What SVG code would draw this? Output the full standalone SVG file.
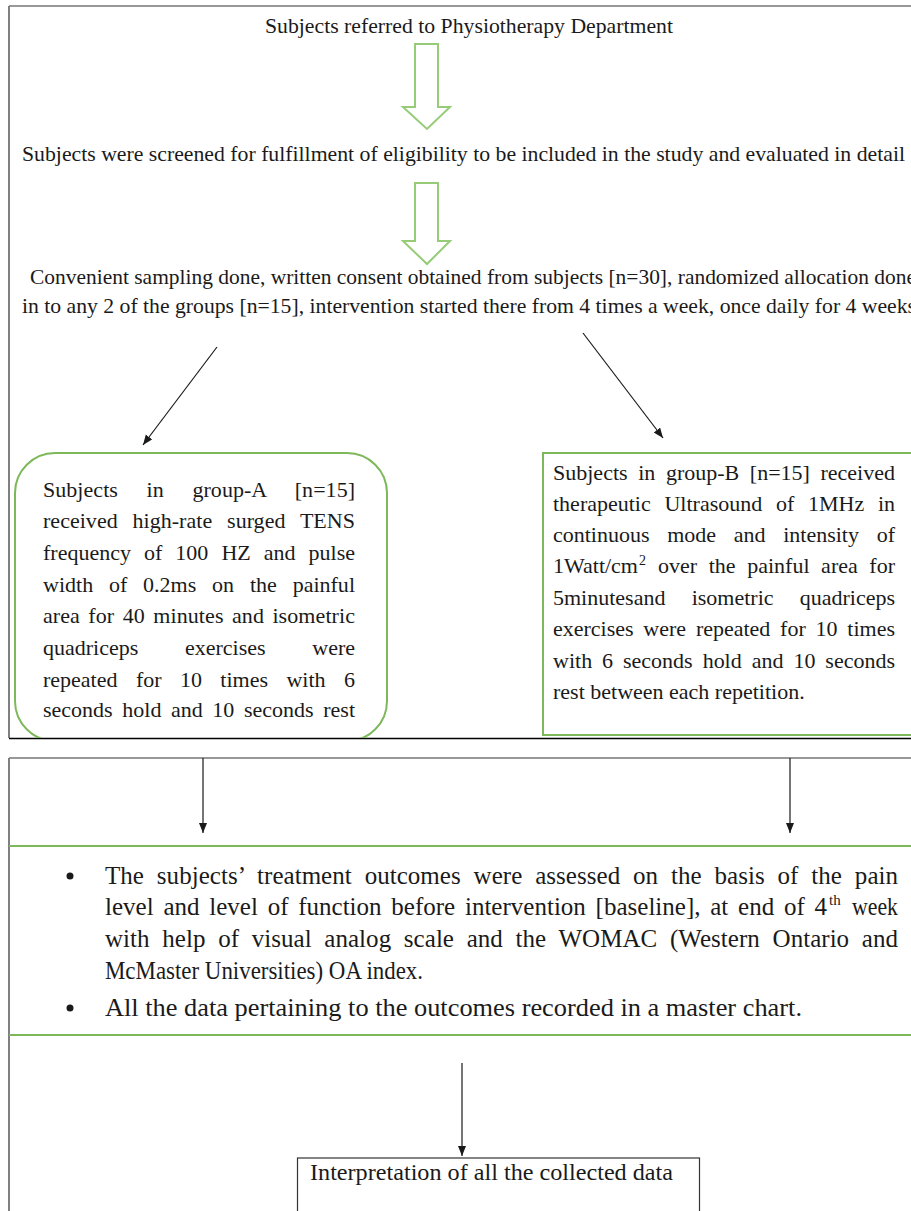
<svg xmlns="http://www.w3.org/2000/svg" width="911" height="1211" viewBox="0 0 911 1211">
<style>
.t{font-family:"Liberation Serif","Times New Roman",serif;fill:#1a1a1a}
.s21{font-size:21px}
.s22{font-size:22px}
.s24{font-size:24px}
.s25{font-size:25px}
.frame{stroke:#333;stroke-width:1.2;fill:none}
.side{stroke:#808080;stroke-width:2;fill:none}
.grn{stroke:#7DB85A;stroke-width:2;fill:none}
.hollow{stroke:#96CC78;stroke-width:2;fill:#fff}
.con{stroke:#1a1a1a;stroke-width:1.2;fill:none}
</style>
<defs>
<marker id="ah" markerUnits="userSpaceOnUse" markerWidth="10" markerHeight="10" refX="10" refY="4" orient="auto">
<path d="M0,0 L10,4 L0,8 z" fill="#1a1a1a"/>
</marker>
<clipPath id="clipTop"><rect x="0" y="0" width="911" height="738"/></clipPath>
</defs>
<rect x="0" y="0" width="911" height="1211" fill="#fff"/>

<g id="frames">
<line class="frame" x1="9" y1="6" x2="911" y2="6"/>
<line class="side" x1="9" y1="6" x2="9" y2="738"/>
<line x1="9" y1="738.5" x2="911" y2="738.5" stroke="#000" stroke-width="1.5"/>
<line class="frame" x1="9" y1="758" x2="911" y2="758" stroke="#444" stroke-width="1.5"/>
<line class="side" x1="9" y1="758" x2="9" y2="1211"/>
</g>

<g id="connectors">
<polygon class="hollow" points="415,44 438,44 438,107 450,107 427,129 403,107 415,107"/>
<polygon class="hollow" points="415,183 438,183 438,241 450,241 427,264 403,241 415,241"/>
<line class="con" x1="217" y1="347" x2="143" y2="445" marker-end="url(#ah)"/>
<line class="con" x1="583" y1="333" x2="663" y2="438" marker-end="url(#ah)"/>
<line class="con" x1="203" y1="758" x2="203" y2="833" marker-end="url(#ah)"/>
<line class="con" x1="790" y1="758" x2="790" y2="833" marker-end="url(#ah)"/>
<line class="con" x1="462" y1="1063" x2="462" y2="1156" marker-end="url(#ah)"/>
</g>

<g id="node-referred">
<text class="t s22" x="265" y="33" textLength="408" lengthAdjust="spacingAndGlyphs">Subjects referred to Physiotherapy Department</text>
</g>

<g id="node-screened">
<text class="t s21" x="22" y="161" textLength="883" lengthAdjust="spacingAndGlyphs">Subjects were screened for fulfillment of eligibility to be included in the study and evaluated in detail</text>
</g>

<g id="node-sampling">
<text class="t s21" x="30" y="284" textLength="886" lengthAdjust="spacingAndGlyphs">Convenient sampling done, written consent obtained from subjects [n=30], randomized allocation done</text>
<text class="t s21" x="22" y="313" textLength="894" lengthAdjust="spacingAndGlyphs">in to any 2 of the groups [n=15], intervention started there from 4 times a week, once daily for 4 weeks</text>
</g>

<g id="node-groupA">
<rect class="grn" x="15" y="453" width="372" height="288" rx="40" ry="40" clip-path="url(#clipTop)" stroke-width="1.6"/>
<text class="t s22" x="43" y="497" word-spacing="23.1" textLength="312" lengthAdjust="spacing">Subjects in group-A [n=15]</text>
<text class="t s22" x="43" y="528" word-spacing="9.3" textLength="312" lengthAdjust="spacing">received high-rate surged TENS</text>
<text class="t s22" x="43" y="560" word-spacing="7.5" textLength="312" lengthAdjust="spacing">frequency of 100 HZ and pulse</text>
<text class="t s22" x="43" y="592" word-spacing="10.3" textLength="312" lengthAdjust="spacing">width of 0.2ms on the painful</text>
<text class="t s22" x="43" y="623" word-spacing="2.8" textLength="312" lengthAdjust="spacing">area for 40 minutes and isometric</text>
<text class="t s22" x="43" y="655" word-spacing="41.2" textLength="312" lengthAdjust="spacing">quadriceps exercises were</text>
<text class="t s22" x="43" y="687" word-spacing="12.9" textLength="312" lengthAdjust="spacing">repeated for 10 times with 6</text>
<text class="t s22" x="43" y="717" word-spacing="4.1" textLength="312" lengthAdjust="spacing">seconds hold and 10 seconds rest</text>
</g>

<g id="node-groupB">
<rect class="grn" x="543" y="453" width="380" height="282" stroke-width="1.6"/>
<text class="t s22" x="553" y="480" word-spacing="5.1" textLength="342" lengthAdjust="spacing">Subjects in group-B [n=15] received</text>
<text class="t s22" x="553" y="511" word-spacing="8.2" textLength="342" lengthAdjust="spacing">therapeutic Ultrasound of 1MHz in</text>
<text class="t s22" x="553" y="542" word-spacing="12.2" textLength="342" lengthAdjust="spacing">continuous mode and intensity of</text>
<text class="t s22" x="553" y="573">1Watt/cm</text>
<text class="t" x="639" y="565" font-size="14">2</text>
<text class="t s22" x="658" y="573" word-spacing="6.1" textLength="237" lengthAdjust="spacing">over the painful area for</text>
<text class="t s22" x="553" y="605" word-spacing="20.7" textLength="342" lengthAdjust="spacing">5minutesand isometric quadriceps</text>
<text class="t s22" x="553" y="636" word-spacing="4.3" textLength="342" lengthAdjust="spacing">exercises were repeated for 10 times</text>
<text class="t s22" x="553" y="668" word-spacing="4.45" textLength="342" lengthAdjust="spacing">with 6 seconds hold and 10 seconds</text>
<text class="t s22" x="553" y="699">rest between each repetition.</text>
</g>

<g id="node-outcomes">
<line class="grn" x1="9" y1="846" x2="911" y2="846"/>
<line class="grn" x1="9" y1="1035" x2="911" y2="1035"/>
<circle cx="70" cy="876" r="3.5" fill="#1a1a1a"/>
<circle cx="70" cy="1008" r="3.5" fill="#1a1a1a"/>
<text class="t s25" x="105" y="884" word-spacing="6.6" textLength="793" lengthAdjust="spacing">The subjects’ treatment outcomes were assessed on the basis of the pain</text>
<text class="t s25" x="105" y="915" word-spacing="3.5" textLength="722" lengthAdjust="spacing">level and level of function before intervention [baseline], at end of 4</text>
<text class="t" x="829" y="905" font-size="15">th</text>
<text class="t s25" x="852" y="915" textLength="46" lengthAdjust="spacingAndGlyphs">week</text>
<text class="t s25" x="105" y="947" word-spacing="6.4" textLength="793" lengthAdjust="spacing">with help of visual analog scale and the WOMAC (Western Ontario and</text>
<text class="t s25" x="105" y="979" textLength="318" lengthAdjust="spacingAndGlyphs">McMaster Universities) OA index.</text>
<text class="t s25" x="105" y="1016" textLength="697" lengthAdjust="spacingAndGlyphs">All the data pertaining to the outcomes recorded in a master chart.</text>
</g>

<g id="node-interpretation">
<rect x="297.5" y="1158" width="402" height="70" fill="#fff" stroke="#333" stroke-width="1.2"/>
<text class="t s24" x="310" y="1180" textLength="363" lengthAdjust="spacingAndGlyphs">Interpretation of all the collected data</text>
</g>
</svg>
